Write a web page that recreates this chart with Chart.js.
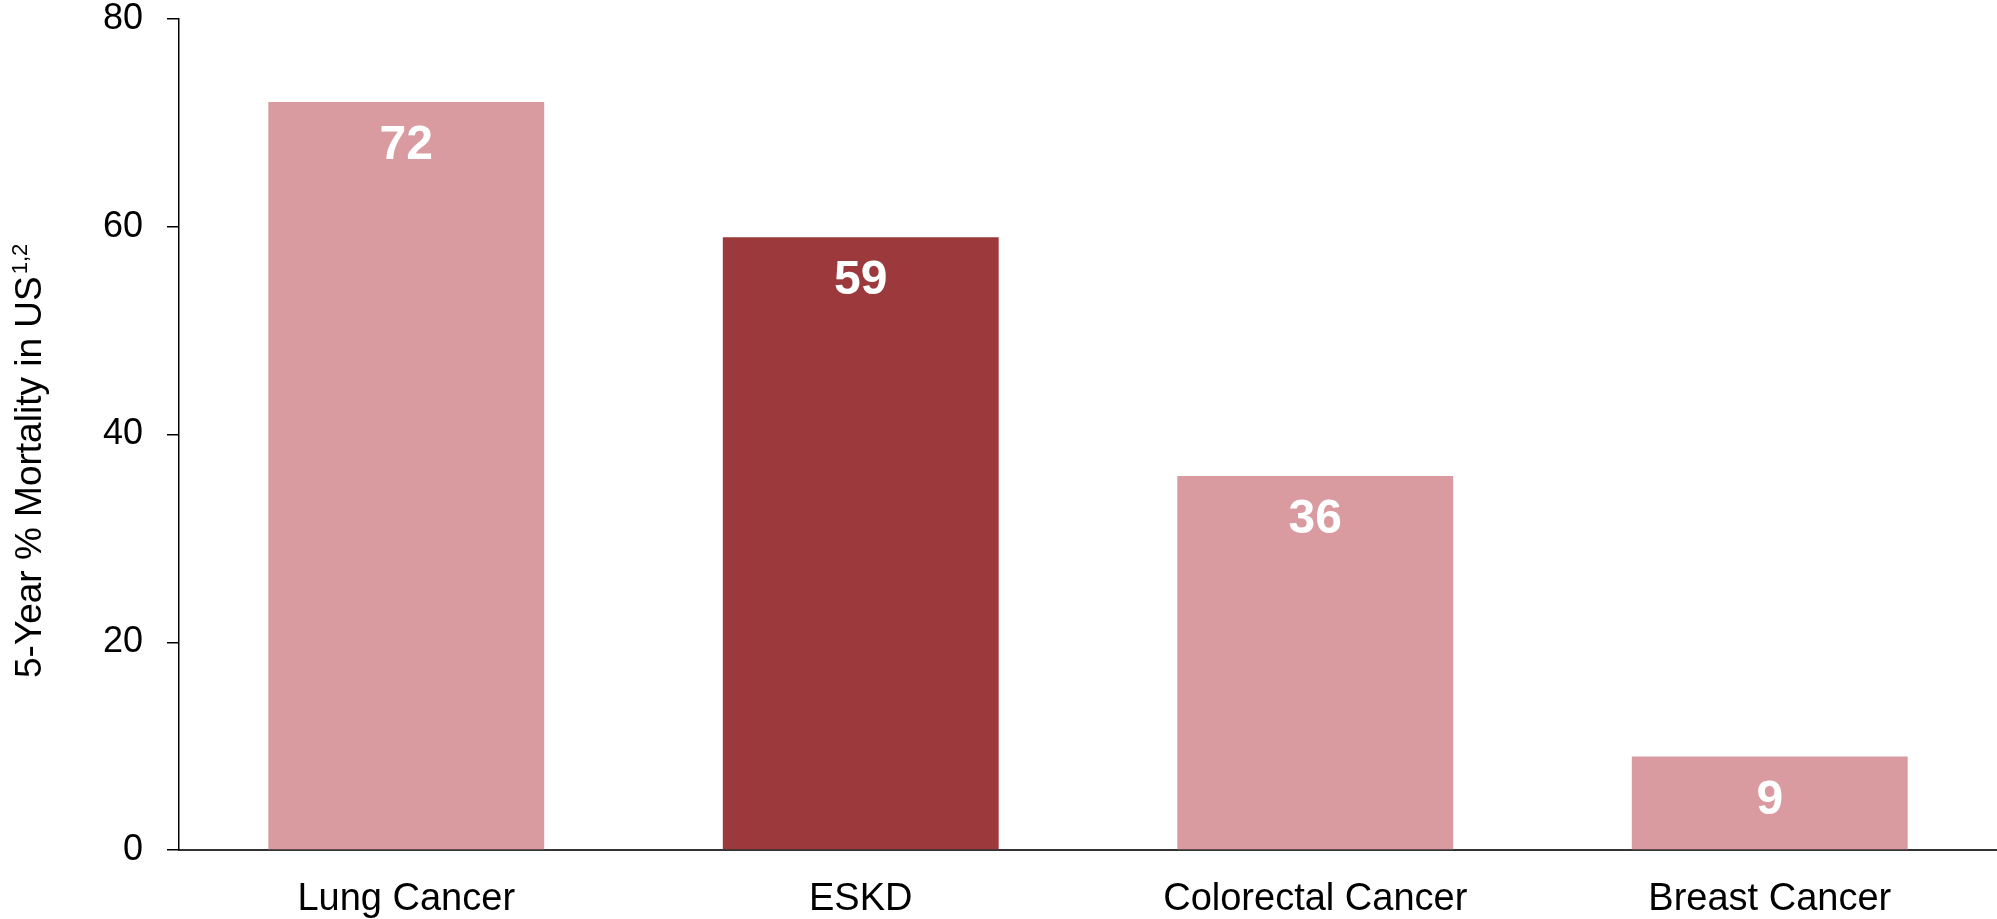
<!DOCTYPE html>
<html>
<head>
<meta charset="utf-8">
<script src="https://cdn.jsdelivr.net/npm/chart.js@4"></script>
<style>
  html, body { margin: 0; padding: 0; background: #fff; }
</style>
</head>
<body>
<canvas id="chart-bar" width="1997" height="919"></canvas>
<script>
var categories = ['Lung Cancer', 'ESKD', 'Colorectal Cancer', 'Breast Cancer'];
var mortality = [72, 59, 36, 9];
var yTicks = [0, 20, 40, 60, 80];
var axisTitle = '5-Year % Mortality in US';
var axisTitleSup = '1,2';

var barColors = ['#d99b9f', '#9c393d', '#d99b9f', '#d99b9f'];

// white value labels inside the top of each bar
var valueLabels = {
  id: 'valueLabels',
  afterDatasetsDraw: function(chart) {
    let ctx = chart.ctx;
    let meta = chart.getDatasetMeta(0);
    ctx.save();
    ctx.fillStyle = '#ffffff';
    ctx.font = 'bold 48px "Liberation Sans", Arial, sans-serif';
    ctx.textAlign = 'center';
    ctx.textBaseline = 'middle';
    meta.data.forEach(function(bar, i) {
      ctx.fillText(String(mortality[i]), bar.x, bar.y + 44);
    });
    ctx.restore();
  }
};

// rotated y axis title with superscript refs
var yTitle = {
  id: 'yTitle',
  afterDraw: function(chart) {
    let ctx = chart.ctx;
    ctx.save();
    ctx.translate(41, 678);
    ctx.rotate(-Math.PI / 2);
    ctx.fillStyle = '#000';
    ctx.textAlign = 'left';
    ctx.textBaseline = 'alphabetic';
    ctx.font = '37px "Liberation Sans", Arial, sans-serif';
    ctx.fillText(axisTitle, 0, 0);
    let w = ctx.measureText(axisTitle).width;
    ctx.font = '22px "Liberation Sans", Arial, sans-serif';
    ctx.fillText(axisTitleSup, w + 2, -14);
    ctx.restore();
  }
};

new Chart(document.getElementById('chart-bar'), {
  type: 'bar',
  data: {
    labels: categories,
    datasets: [{
      data: mortality,
      backgroundColor: barColors,
      borderWidth: 0,
      barPercentage: 0.607,
      categoryPercentage: 1.0
    }]
  },
  options: {
    responsive: false,
    animation: false,
    layout: { padding: 0 },
    plugins: {
      legend: { display: false },
      tooltip: { enabled: false }
    },
    scales: {
      x: {
        grid: { display: false, drawTicks: false },
        border: { display: true, color: '#333333', width: 2 },
        ticks: {
          color: '#000',
          padding: 27,
          font: { family: '"Liberation Sans", Arial, sans-serif', size: 38 }
        },
        afterFit: function(s) { s.height = 69; }
      },
      y: {
        min: 0,
        max: 80,
        afterBuildTicks: function(s) {
          s.ticks = yTicks.map(function(v) { return { value: v }; });
        },
        grid: {
          drawOnChartArea: false,
          drawTicks: true,
          tickLength: 12,
          color: '#000',
          lineWidth: 1.5
        },
        border: { display: true, color: '#000', width: 1.5 },
        ticks: {
          color: '#000',
          padding: 24,
          font: { family: '"Liberation Sans", Arial, sans-serif', size: 36 }
        },
        afterFit: function(s) {
          s.width = 179;
          s.paddingTop = 19;
          s.paddingBottom = 0;
        }
      }
    }
  },
  plugins: [valueLabels, yTitle]
});
</script>
</body>
</html>
